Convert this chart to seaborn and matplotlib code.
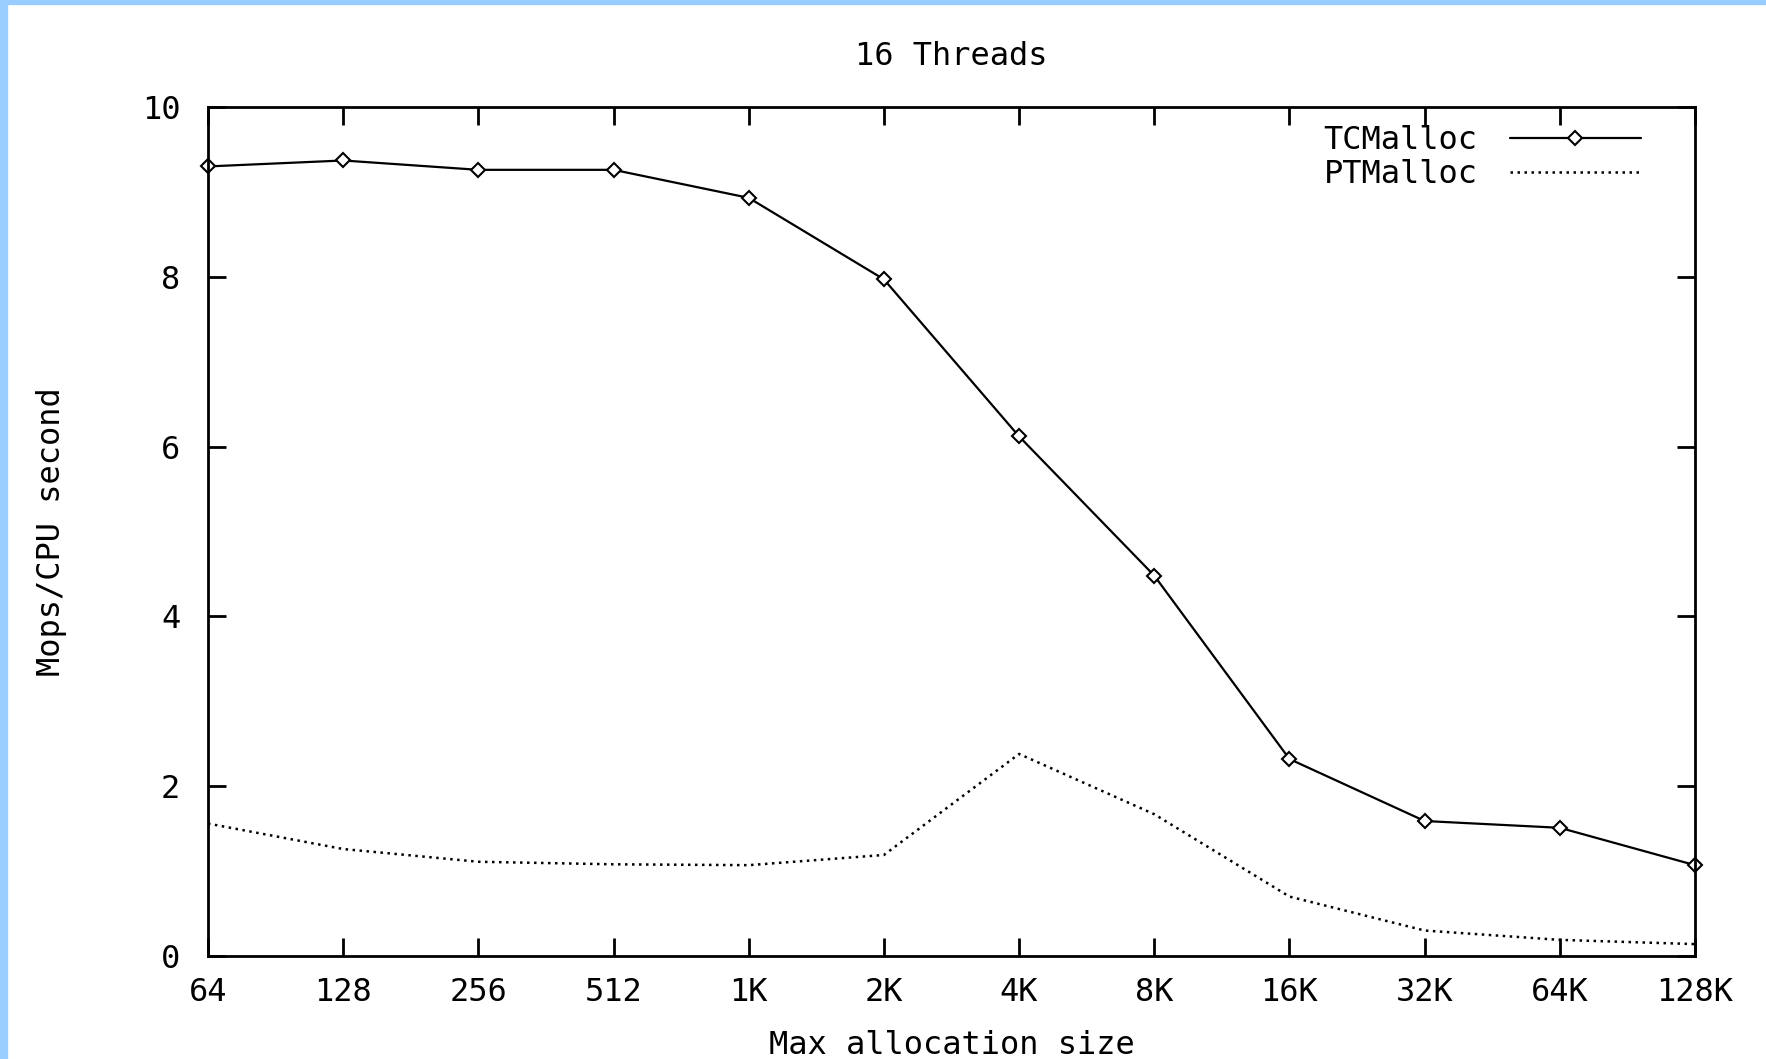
import matplotlib
matplotlib.use("Agg")
import matplotlib.pyplot as plt
import matplotlib.patches as mpatches
import seaborn as sns
import pandas as pd

# ---- data ----
sizes = [64, 128, 256, 512, 1024, 2048, 4096, 8192, 16384, 32768, 65536, 131072]
size_labels = ["64", "128", "256", "512", "1K", "2K", "4K", "8K", "16K", "32K", "64K", "128K"]
tcmalloc = [9.30, 9.37, 9.26, 9.26, 8.93, 7.97, 6.12, 4.48, 2.32, 1.59, 1.51, 1.07]
ptmalloc = [1.56, 1.26, 1.11, 1.08, 1.07, 1.19, 2.38, 1.67, 0.70, 0.30, 0.19, 0.14]
y_ticks = [0, 2, 4, 6, 8, 10]

title = "16 Threads"
xlabel = "Max allocation size"
ylabel = "Mops/CPU second"

df = pd.DataFrame({
    "size": sizes * 2,
    "value": tcmalloc + ptmalloc,
    "allocator": ["TCMalloc"] * len(sizes) + ["PTMalloc"] * len(sizes),
})

sns.set_style("white")
plt.rcParams["font.family"] = ["DejaVu Sans Mono", "DejaVu Sans"]

W, H = 1766, 1059
fig = plt.figure(figsize=(W / 100, H / 100), dpi=100)
ax = fig.add_axes([208 / W, 1 - 956 / H, (1695 - 208) / W, (956 - 107) / H])

fs = 23

tc = df[df["allocator"] == "TCMalloc"]
pm = df[df["allocator"] == "PTMalloc"]
sns.lineplot(data=tc, x="size", y="value", ax=ax, color="black",
             linewidth=1.6, marker="D", markersize=7,
             markerfacecolor="white", markeredgecolor="black",
             markeredgewidth=1.5, label="TCMalloc", clip_on=False)
sns.lineplot(data=pm, x="size", y="value", ax=ax, color="black",
             linewidth=1.8, linestyle=(0, (1, 1.8)), label="PTMalloc",
             clip_on=False)

ax.set_xscale("log", base=2)
ax.set_xlim(sizes[0], sizes[-1])
ax.set_ylim(0, 10)
ax.set_xticks(sizes)
ax.set_xticklabels(size_labels)
ax.minorticks_off()
ax.set_yticks(y_ticks)
ax.set_yticklabels([str(v) for v in y_ticks])

for s in ax.spines.values():
    s.set_visible(True)
    s.set_color("black")
    s.set_linewidth(2.0)

ax.tick_params(axis="both", which="major", direction="in", length=13,
               width=2.0, color="black", labelsize=fs, labelcolor="black",
               top=True, right=True, bottom=True, left=True)
ax.tick_params(axis="x", pad=15)
ax.tick_params(axis="y", pad=20)

ax.set_title(title, fontsize=fs, pad=30, color="black")
ax.set_xlabel(xlabel, fontsize=fs, labelpad=16, color="black")
ax.set_ylabel(ylabel, fontsize=fs, labelpad=54, color="black")

leg = ax.legend(loc="upper right", frameon=False, fontsize=fs,
                markerfirst=False, handlelength=4.1, handletextpad=1.0,
                labelspacing=0.1, borderaxespad=0.0, numpoints=1,
                bbox_to_anchor=(0.972, 0.994))
for t in leg.get_texts():
    t.set_color("black")

# light blue window border (left and top edges)
fig.patches.append(mpatches.Rectangle((0, 0), 7 / W, 1, transform=fig.transFigure,
                                      color="#99CCFF", zorder=10))
fig.patches.append(mpatches.Rectangle((0, 1 - 4 / H), 1, 4 / H, transform=fig.transFigure,
                                      color="#99CCFF", zorder=10))

fig.savefig("out.png", dpi=100, facecolor="white")
